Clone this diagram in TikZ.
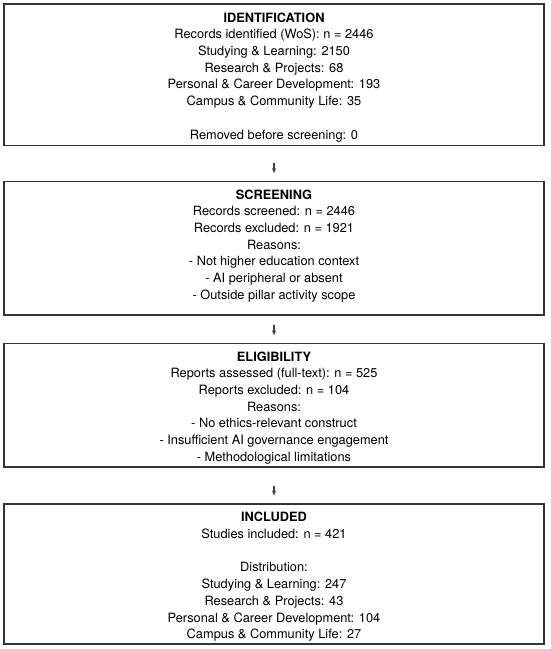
\documentclass[tikz,border=0pt]{standalone}
\usepackage{fontspec}
\setmainfont{TeX Gyre Heros}
\usetikzlibrary{arrows.meta}
\definecolor{boxline}{HTML}{333333}
\definecolor{arrowline}{HTML}{444444}
\begin{document}
\begin{tikzpicture}[x=0.75pt,y=-0.75pt,
  stagebox/.style={draw=boxline,line width=1.15pt,inner sep=0pt,minimum width=405pt},
  stagetext/.style={anchor=north,inner sep=0pt,align=center,font=\fontsize{9.6pt}{12.52pt}\selectfont},
  flowarrow/.style={draw=arrowline,line width=1.05pt,-{Stealth[length=3.8pt,width=3.2pt]}}]
\useasboundingbox (0,0) rectangle (550,649);
\node[stagebox,minimum height=105.98pt] (b1) at (274,74.65) {};
\node[stagebox,minimum height=100pt] (b2) at (274,248.35) {};
\node[stagebox,minimum height=92.48pt] (b3) at (274,405.35) {};
\node[stagebox,minimum height=105pt] (b4) at (274,574) {};
\node[stagetext] (t1) at (274,12.4) {\textbf{IDENTIFICATION}\\Records identified (WoS): n = 2446\\Studying \& Learning: 2150\\Research \& Projects: 68\\Personal \& Career Development: 193\\Campus \& Community Life: 35\\[12.52pt]Removed before screening: 0};
\node[stagetext] (t2) at (274,189.4) {\textbf{SCREENING}\\Records screened: n = 2446\\Records excluded: n = 1921\\Reasons:\\- Not higher education context\\- AI peripheral or absent\\- Outside pillar activity scope};
\node[stagetext] (t3) at (274,351.4) {\textbf{ELIGIBILITY}\\Reports assessed (full-text): n = 525\\Reports excluded: n = 104\\Reasons:\\- No ethics-relevant construct\\- Insufficient AI governance engagement\\- Methodological limitations};
\node[stagetext] (t4) at (274,512.1) {\textbf{INCLUDED}\\Studies included: n = 421\\[12.52pt]Distribution:\\Studying \& Learning: 247\\Research \& Projects: 43\\Personal \& Career Development: 104\\Campus \& Community Life: 27};
\draw[flowarrow,shorten <=12.5pt,shorten >=5.8pt] (b1) -- (b2);
\draw[flowarrow,shorten <=6.8pt,shorten >=5.8pt] (b2) -- (b3);
\draw[flowarrow,shorten <=13.3pt,shorten >=5.8pt] (b3) -- (b4);
\end{tikzpicture}
\end{document}
